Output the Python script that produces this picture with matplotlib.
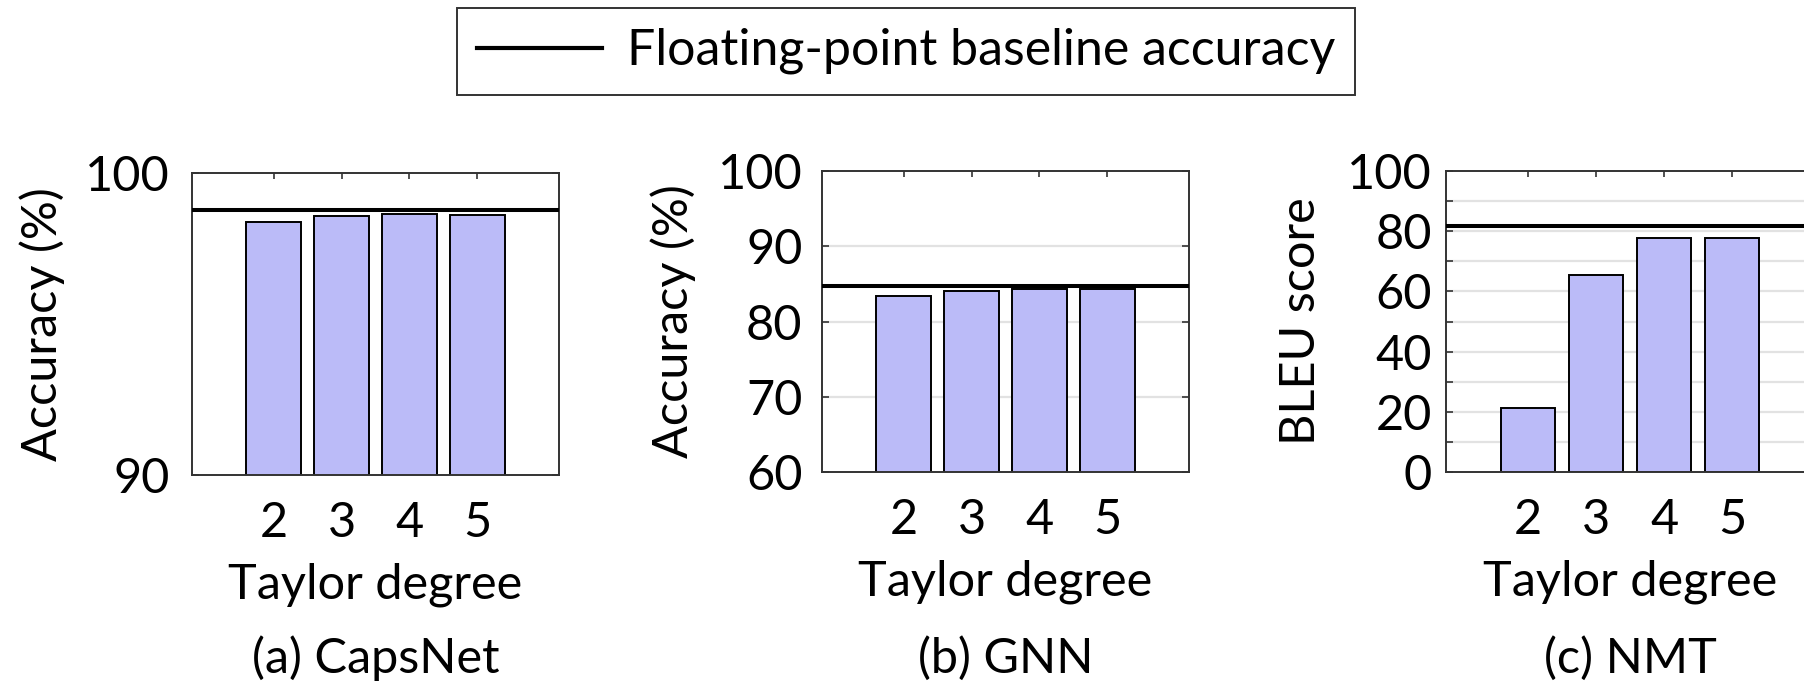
import matplotlib
matplotlib.use("Agg")
import matplotlib.pyplot as plt
from matplotlib.lines import Line2D
import matplotlib.ticker as mticker

# ── Data ──────────────────────────────────────────────────────────────────────
degrees = [2, 3, 4, 5]

capsnet_acc = [98.39, 98.58, 98.64, 98.60]
capsnet_base = 98.76

gnn_acc = [83.4, 84.05, 84.3, 84.3]
gnn_base = 84.7

nmt_bleu = [21.1, 65.3, 77.6, 77.6]
nmt_base = 81.6

# ── Style ─────────────────────────────────────────────────────────────────────
BAR = "#bbbbf8"
SPINE = "#333333"
GRID = "#e2e2e2"
FS = 35

plt.rcParams["font.family"] = ["Lato", "DejaVu Sans"]

W, H = 1804, 684
fig = plt.figure(figsize=(W / 100, H / 100), dpi=100)


def px_axes(left, top, right, bottom):
    return fig.add_axes([left / W, 1 - bottom / H, (right - left) / W, (bottom - top) / H])


panels = [
    # values, baseline, ylim, major, minor, ylabel, caption, box (px), label x (px), tick pad
    (capsnet_acc, capsnet_base, (90, 100), [90, 100], None, "Accuracy (%)", "(a) CapsNet",
     (192, 173, 559, 475), 42, 16),
    (gnn_acc, gnn_base, (60, 100), [60, 70, 80, 90, 100], None, "Accuracy (%)", "(b) GNN",
     (822, 171, 1189, 472), 673, 14),
    (nmt_bleu, nmt_base, (0, 100), list(range(0, 101, 20)), list(range(10, 100, 20)),
     "BLEU score", "(c) NMT", (1446, 171, 1814, 472), 1301, 10),
]

for vals, base, ylim, major, minor, ylabel, caption, box, lab_x, pad in panels:
    ax = px_axes(*box)
    ax.bar(degrees, vals, width=0.8, color=BAR, edgecolor="black", linewidth=1.4, zorder=2)
    ax.axhline(base, color="black", linewidth=2.9, zorder=3)

    ax.set_xlim(0.8, 6.2)
    ax.set_ylim(*ylim)
    ax.set_xticks(degrees)
    ax.set_yticks(major)
    if minor:
        ax.yaxis.set_minor_locator(mticker.FixedLocator(minor))
    grid_lines = [v for v in major + (minor or []) if ylim[0] < v < ylim[1]]
    if ylim != (90, 100):
        for g in grid_lines:
            ax.axhline(g, color=GRID, linewidth=1.6, zorder=0)

    ax.tick_params(axis="both", which="both", direction="in", top=True, right=True,
                   labelsize=FS, color=SPINE, width=1.2)
    ax.tick_params(axis="y", which="major", length=5, pad=pad)
    ax.tick_params(axis="y", which="minor", length=5)
    ax.tick_params(axis="x", length=4, pad=19)
    for s in ax.spines.values():
        s.set_color(SPINE)
        s.set_linewidth(1.4)

    x0, y0, x1, y1 = box
    ax.set_ylabel(ylabel, fontsize=FS, va="center")
    ax.yaxis.set_label_coords((lab_x - x0) / (x1 - x0), 0.5)
    ax.set_xlabel("Taylor degree", fontsize=FS, labelpad=12)
    ax.text(0.5, -(673 - y1) / (y1 - y0), caption, transform=ax.transAxes,
            ha="center", va="baseline", fontsize=FS)

handle = Line2D([], [], color="black", linewidth=3)
leg = fig.legend([handle], ["Floating-point baseline accuracy"], loc="upper center",
                 bbox_to_anchor=(906 / W, 1 - 8 / H), fontsize=36, frameon=True,
                 fancybox=False, edgecolor="black", handlelength=2.5, handletextpad=0.5,
                 borderpad=0.4, borderaxespad=0)
leg.get_frame().set_linewidth(1.4)

fig.savefig("out.png", dpi=100)
